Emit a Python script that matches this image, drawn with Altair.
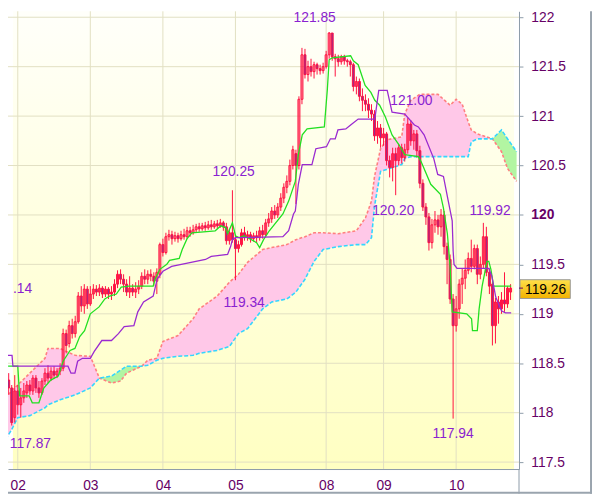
import altair as alt
import pandas as pd

# ---------------- candles (bar index, prices) ----------------
bar_index = list(range(-3, 164))
opens = [
    118.33, 118.25, 117.95, 118.22, 118.08, 118.15, 118.20, 118.28, 118.22, 118.35,
    118.25, 118.20, 118.32, 118.40, 118.35, 118.42, 118.38, 118.42, 118.45, 118.80,
    118.70, 118.88, 118.80, 118.92, 119.18, 119.08, 119.25, 119.10, 119.20, 119.25,
    119.22, 119.26, 119.20, 119.25, 119.20, 119.22, 119.30, 119.40, 119.35, 119.30,
    119.22, 119.26, 119.22, 119.25, 119.28, 119.38, 119.35, 119.40, 119.38, 119.33,
    119.40, 119.70, 119.62, 119.78, 119.80, 119.76, 119.79, 119.76, 119.80, 119.78,
    119.84, 119.82, 119.85, 119.88, 119.86, 119.89, 119.87, 119.90, 119.88, 119.91,
    119.89, 119.92, 119.88, 119.74, 119.82, 119.75, 119.66, 119.70, 119.82, 119.78,
    119.80, 119.76, 119.79, 119.77, 119.84, 119.80, 119.92, 119.96, 120.04, 120.00,
    120.08, 120.17, 120.28, 120.34, 120.50, 120.62, 120.50, 121.17, 121.62, 121.42,
    121.50, 121.45, 121.52, 121.48, 121.46, 121.50, 121.62, 121.84, 121.60, 121.58,
    121.55, 121.60, 121.56, 121.55, 121.52, 121.30, 121.35, 121.20, 121.16, 121.12,
    121.06, 121.02, 120.80, 120.88, 120.78, 120.82, 120.55, 120.48, 120.62, 120.55,
    120.68, 120.58, 120.66, 120.92, 120.75, 120.82, 120.65, 120.32, 120.08, 119.98,
    119.72, 119.90, 119.95, 119.88, 120.00, 119.68, 119.55, 119.15, 118.88, 119.05,
    119.30, 119.36, 119.44, 119.56, 119.48, 119.66, 119.40, 119.50, 119.78, 119.42,
    119.30, 118.88, 119.12, 119.05, 119.14, 119.10, 119.22]
highs = [
    118.40, 118.28, 118.38, 118.28, 118.25, 118.30, 118.32, 118.33, 118.38, 118.38,
    118.32, 118.35, 118.45, 118.48, 118.46, 118.47, 118.45, 118.50, 118.85, 118.84,
    118.93, 118.95, 118.98, 119.22, 119.28, 119.30, 119.28, 119.28, 119.30, 119.29,
    119.30, 119.28, 119.28, 119.27, 119.28, 119.35, 119.44, 119.45, 119.40, 119.35,
    119.38, 119.30, 119.32, 119.34, 119.42, 119.45, 119.44, 119.45, 119.42, 119.46,
    119.72, 119.76, 119.82, 119.85, 119.84, 119.83, 119.82, 119.84, 119.86, 119.88,
    119.88, 119.90, 119.91, 119.92, 119.92, 119.93, 119.94, 119.95, 119.94, 119.95,
    119.96, 119.94, 119.92, 119.86, 120.25, 119.80, 119.74, 119.86, 119.88, 119.84,
    119.83, 119.82, 119.84, 119.88, 119.90, 119.96, 120.02, 120.08, 120.10, 120.12,
    120.22, 120.32, 120.40, 120.56, 120.70, 120.66, 121.20, 121.69, 121.68, 121.56,
    121.58, 121.55, 121.54, 121.52, 121.54, 121.66, 121.85, 121.84, 121.63, 121.62,
    121.62, 121.62, 121.58, 121.57, 121.54, 121.40, 121.38, 121.28, 121.22, 121.18,
    121.12, 121.06, 120.95, 120.92, 120.88, 120.84, 120.60, 120.68, 120.68, 120.72,
    120.72, 120.72, 120.98, 120.96, 120.86, 120.86, 120.70, 120.36, 120.12, 120.02,
    119.96, 120.04, 120.00, 120.06, 120.04, 119.72, 119.60, 119.20, 119.18, 119.35,
    119.46, 119.55, 119.62, 119.75, 119.70, 119.70, 119.58, 119.92, 119.88, 119.46,
    119.32, 119.16, 119.18, 119.22, 119.42, 119.28, 119.30]
lows = [
    118.18, 117.87, 117.90, 117.98, 117.95, 118.10, 118.15, 118.18, 118.18, 118.20,
    118.15, 118.18, 118.28, 118.30, 118.32, 118.34, 118.35, 118.38, 118.42, 118.60,
    118.66, 118.75, 118.76, 118.90, 119.02, 119.00, 119.05, 119.08, 119.15, 119.18,
    119.18, 119.16, 119.17, 119.15, 119.14, 119.18, 119.26, 119.30, 119.22, 119.18,
    119.16, 119.18, 119.16, 119.20, 119.25, 119.30, 119.30, 119.33, 119.28, 119.20,
    119.36, 119.58, 119.60, 119.74, 119.70, 119.73, 119.72, 119.74, 119.75, 119.76,
    119.78, 119.80, 119.82, 119.83, 119.84, 119.84, 119.85, 119.85, 119.86, 119.86,
    119.87, 119.84, 119.70, 119.70, 119.72, 119.34, 119.62, 119.68, 119.74, 119.74,
    119.72, 119.73, 119.72, 119.74, 119.76, 119.78, 119.88, 119.92, 119.96, 119.97,
    120.04, 120.12, 120.22, 120.30, 120.46, 120.11, 120.46, 121.12, 121.38, 121.35,
    121.40, 121.38, 121.42, 121.42, 121.43, 121.48, 121.58, 121.56, 121.40, 121.50,
    121.52, 121.52, 121.50, 121.40, 121.25, 121.22, 121.15, 121.05, 121.05, 120.98,
    120.95, 120.75, 120.72, 120.68, 120.70, 120.50, 120.38, 120.34, 120.20, 120.50,
    120.52, 120.54, 120.62, 120.70, 120.66, 120.58, 120.27, 120.04, 119.90, 119.64,
    119.66, 119.82, 119.80, 119.78, 119.60, 119.30, 119.10, 117.94, 118.82, 118.95,
    119.10, 119.25, 119.40, 119.42, 119.45, 119.30, 119.35, 119.46, 119.38, 119.20,
    118.68, 118.70, 118.90, 119.00, 119.02, 119.06, 119.14]
closes = [
    118.25, 117.90, 118.22, 118.08, 118.15, 118.22, 118.28, 118.22, 118.35, 118.25,
    118.20, 118.32, 118.40, 118.35, 118.42, 118.38, 118.42, 118.45, 118.80, 118.68,
    118.88, 118.80, 118.92, 119.18, 119.08, 119.25, 119.10, 119.20, 119.25, 119.22,
    119.26, 119.20, 119.25, 119.20, 119.22, 119.30, 119.40, 119.35, 119.30, 119.22,
    119.26, 119.22, 119.25, 119.28, 119.38, 119.35, 119.40, 119.38, 119.33, 119.42,
    119.70, 119.62, 119.78, 119.80, 119.76, 119.79, 119.76, 119.80, 119.78, 119.84,
    119.82, 119.85, 119.88, 119.86, 119.89, 119.87, 119.90, 119.88, 119.91, 119.89,
    119.92, 119.88, 119.74, 119.82, 119.75, 119.66, 119.70, 119.82, 119.78, 119.80,
    119.76, 119.79, 119.77, 119.84, 119.80, 119.92, 119.96, 120.04, 120.00, 120.08,
    120.17, 120.28, 120.34, 120.50, 120.66, 120.50, 121.17, 121.62, 121.42, 121.50,
    121.45, 121.52, 121.48, 121.46, 121.50, 121.62, 121.84, 121.60, 121.58, 121.55,
    121.60, 121.56, 121.55, 121.52, 121.30, 121.35, 121.20, 121.16, 121.12, 121.06,
    121.02, 120.80, 120.88, 120.78, 120.82, 120.55, 120.48, 120.62, 120.55, 120.68,
    120.58, 120.66, 120.92, 120.75, 120.82, 120.65, 120.32, 120.08, 119.98, 119.72,
    119.90, 119.95, 119.88, 120.00, 119.68, 119.55, 119.15, 118.88, 119.05, 119.30,
    119.36, 119.44, 119.56, 119.48, 119.66, 119.40, 119.50, 119.78, 119.42, 119.28,
    118.88, 119.12, 119.05, 119.14, 119.10, 119.26, 119.26]

# ---------------- Ichimoku cloud (senkou span A / B) ----------------
cloud_idx = [-4, -2, 0, 4, 9, 10, 14, 16, 19, 24,
             27, 31, 34, 36, 41, 43, 46, 48, 53, 58,
             60, 66, 70, 73, 76, 81, 84, 89, 92, 95,
             98, 101, 106, 112, 115, 117, 118, 120, 122, 127,
             128, 130, 133, 139, 143, 145, 147, 149, 150, 152,
             157, 160, 162, 165]
span_a = [118.15, 118.22, 118.28, 118.40, 118.55, 118.65, 118.65, 118.62, 118.58, 118.57,
          118.35, 118.30, 118.32, 118.40, 118.47, 118.53, 118.55, 118.72, 118.78, 118.95,
          119.05, 119.18, 119.32, 119.40, 119.52, 119.65, 119.67, 119.70, 119.75, 119.78,
          119.82, 119.82, 119.81, 119.84, 119.97, 120.14, 120.39, 120.67, 120.76, 120.79,
          121.02, 121.16, 121.22, 121.22, 121.11, 121.17, 121.12, 120.94, 120.86, 120.82,
          120.77, 120.64, 120.47, 120.34]
span_b = [117.73, 117.83, 117.95, 117.97, 118.05, 118.08, 118.13, 118.15, 118.18, 118.25,
          118.35, 118.37, 118.43, 118.47, 118.47, 118.48, 118.53, 118.55, 118.57, 118.58,
          118.60, 118.63, 118.67, 118.80, 118.85, 119.05, 119.12, 119.15, 119.22, 119.35,
          119.53, 119.65, 119.68, 119.70, 119.70, 119.77, 120.09, 120.44, 120.46, 120.51,
          120.57, 120.59, 120.59, 120.59, 120.59, 120.59, 120.59, 120.59, 120.74, 120.77,
          120.77, 120.86, 120.77, 120.64]

# ---------------- tenkan (conversion) line ----------------
tenkan_idx = [-3.2, 0, 0.6, 3.8, 4.8, 7.0, 8.6, 10.9, 13.4, 15,
              17.3, 18.9, 20.5, 22.1, 24, 26.9, 28.8, 30.4, 32.6, 34.2,
              36.8, 44.8, 45.4, 47, 49.3, 50.2, 53.4, 54.4, 56, 57.6,
              65.3, 67.2, 68.8, 69.4, 71, 72, 73.3, 74.9, 79, 80,
              81.3, 83.2, 87.7, 89.6, 91.8, 92.8, 94.1, 95.7, 101.4, 102.4,
              103, 104, 110.1, 111, 112.6, 114.9, 116.8, 118.1, 119.7, 121.6,
              123.8, 126.1, 128, 132.5, 133.4, 136.6, 139.8, 140.8, 142.1, 143,
              143.7, 148.5, 150.1, 150.4, 152, 152.6, 153.6, 155.2, 155.8, 156.5,
              157.4, 163.2]
tenkan = [118.47, 118.47, 118.17, 118.17, 118.10, 118.10, 118.25, 118.33, 118.37, 118.52,
          118.63, 118.65, 118.77, 118.83, 119.00, 119.07, 119.15, 119.18, 119.20, 119.27,
          119.28, 119.28, 119.35, 119.45, 119.50, 119.54, 119.56, 119.65, 119.76, 119.82,
          119.84, 119.89, 119.87, 119.81, 119.92, 119.79, 119.77, 119.79, 119.72, 119.67,
          119.75, 119.84, 120.01, 120.14, 120.34, 120.61, 120.81, 120.87, 120.89, 121.27,
          121.57, 121.59, 121.61, 121.56, 121.52, 121.31, 121.24, 121.16, 121.11, 120.99,
          120.81, 120.71, 120.61, 120.59, 120.54, 120.31, 120.21, 120.07, 119.81, 119.48,
          119.02, 119.00, 118.95, 118.83, 118.83, 119.05, 119.28, 119.53, 119.53, 119.45,
          119.28, 119.28]

# ---------------- kijun (base) line ----------------
kijun_idx = [-3.5, -1.9, -1.6, 16.6, 17.6, 18.9, 19.8, 21.4, 24, 25.3,
             27.8, 31, 33.3, 35.2, 38.4, 39.7, 41.6, 44.8, 46.1, 48,
             50.9, 55.7, 62.1, 64, 69.4, 70.4, 71, 72, 87.7, 89.6,
             91.2, 91.8, 92.8, 94.1, 97.3, 98.6, 102.1, 103.4, 105, 105.9,
             108.5, 110.1, 112.6, 118.1, 119.4, 122.2, 123.8, 128, 131.2, 132.5,
             134.4, 137.6, 138.9, 140.8, 142.4, 143.7, 144, 144.3, 145.3, 155.8,
             156.8, 158.1, 160, 161.3, 163.2]
kijun = [118.58, 118.58, 118.47, 118.47, 118.40, 118.40, 118.52, 118.55, 118.55, 118.62,
         118.73, 118.73, 118.80, 118.87, 118.88, 119.02, 119.12, 119.18, 119.35, 119.43,
         119.48, 119.51, 119.55, 119.58, 119.60, 119.68, 119.75, 119.77, 119.78, 119.84,
         120.01, 120.04, 120.31, 120.51, 120.51, 120.67, 120.69, 120.77, 120.77, 120.86,
         120.87, 120.91, 120.97, 120.97, 121.26, 121.26, 121.04, 121.02, 120.91, 120.89,
         120.81, 120.57, 120.41, 120.39, 120.14, 119.94, 119.64, 119.50, 119.46, 119.46,
         119.38, 119.17, 119.03, 119.01, 119.01]

# ---------------- axis ticks / labels ----------------
day_index = [0, 24, 48, 72, 102, 121, 145]
day_labels = ["02", "03", "04", "05", "08", "09", "10"]
price_ticks = [117.5, 118.0, 118.5, 119.0, 119.5, 120.0, 120.5, 121.0, 121.5, 122.0]

# ---------------- annotations ----------------
ann_text = ["121.85", "121.00", "120.25", "120.20", "119.92", "119.34", "117.87", "117.94", ".14"]
ann_idx = [98.2, 130.2, 71.4, 124.2, 156.2, 74.9, 4.2, 144.0, -1.6]
ann_price = [121.99, 121.15, 120.43, 120.04, 120.04, 119.11, 117.68, 117.78, 119.25]
ann_align = ["center"] * 8 + ["left"]
last_price = 119.26

# ---------------- styling ----------------
FONT = "Liberation Sans"
RED = "#ff1040"
BEAR = "#9c2a8c"
GRID = "#e2dfc2"
AXIS_GRAY = "#8c9aa8"
LABEL = "#660066"
ANN = "#8a22d0"

xs = alt.Scale(domain=[-1.6, 164.16], nice=False, zero=False)
ys = alt.Scale(domain=[117.43, 122.06], nice=False, zero=False)

label_expr = " : ".join(f"datum.value == {i} ? '{l}'" for i, l in zip(day_index, day_labels)) + " : ''"
xaxis = alt.Axis(values=day_index, labelExpr=label_expr, title=None, grid=False, ticks=False,
                 labelPadding=10, labelColor=LABEL, labelFont=FONT, labelFontSize=14,
                 domainColor=AXIS_GRAY, labelOverlap=False, labelFlush=False)
yaxis = alt.Axis(orient="right", values=price_ticks, format="~f", title=None, grid=False,
                 tickSize=4, tickColor=AXIS_GRAY, labelPadding=8, labelColor=LABEL,
                 labelFont=FONT, labelFontSize=14, domainColor=AXIS_GRAY, labelOverlap=False,
                 labelFontWeight={"condition": {"test": "datum.value == 120", "value": "bold"},
                                  "value": "normal"})


def X(f):
    return alt.X(f, type="quantitative", scale=xs, axis=xaxis, title=None)


def Y(f):
    return alt.Y(f, type="quantitative", scale=ys, axis=yaxis, title=None)


# data frames
candles = pd.DataFrame({"idx": bar_index, "open": opens, "high": highs, "low": lows, "close": closes})
candles["fill"] = [BEAR if c < o else "rgba(0,0,0,0)" for o, c in zip(opens, closes)]

cloud = pd.DataFrame({"idx": cloud_idx, "a": span_a, "b": span_b})
segs, cur = [], []
for ix, a, b in zip(cloud_idx, span_a, span_b):
    cur.append((ix, a, b))
    if a == b and len(cur) > 1:
        segs.append(cur)
        cur = [(ix, a, b)]
segs.append(cur)
rows = []
for sid, s in enumerate(segs):
    col = "#ffc8e8" if any(a > b for _, a, b in s) else "#b2f5a2"
    for ix, a, b in s:
        rows.append({"idx": ix, "a": a, "b": b, "seg": sid, "fill": col})
cloud_fill = pd.DataFrame(rows)

tk = pd.DataFrame({"idx": tenkan_idx, "v": tenkan})
kj = pd.DataFrame({"idx": kijun_idx, "v": kijun})
ann = pd.DataFrame({"idx": ann_idx, "p": ann_price, "t": ann_text, "al": ann_align})
bg = pd.DataFrame({"x0": [xs.domain[0]], "x1": [xs.domain[1]], "y0": [ys.domain[0]], "y1": [ys.domain[1]]})
hgrid = pd.DataFrame({"p": price_ticks})
vgrid = pd.DataFrame({"idx": day_index})
tag = pd.DataFrame({"p": [last_price], "top": [last_price + 0.105], "bot": [last_price - 0.105],
                    "t": [f"{last_price:.2f}"]})

bg_grad = alt.LinearGradient(gradient="linear", x1=0, x2=0, y1=0, y2=1,
                             stops=[alt.GradientStop(color="#fffffa", offset=0),
                                    alt.GradientStop(color="#ffffc2", offset=1)])
tag_grad = alt.LinearGradient(gradient="linear", x1=0, x2=0, y1=0, y2=1,
                              stops=[alt.GradientStop(color="#ffe04a", offset=0),
                                     alt.GradientStop(color="#f2b200", offset=1)])

background = alt.Chart(bg).mark_rect(fill=bg_grad).encode(x=X("x0"), x2="x1", y=Y("y0"), y2="y1")
hg = alt.Chart(hgrid).mark_rule(color=GRID, strokeWidth=1).encode(y=Y("p"))
vg = alt.Chart(vgrid).mark_rule(color=GRID, strokeWidth=1).encode(x=X("idx"))

cloud_area = alt.Chart(cloud_fill).mark_area(clip=True, opacity=1).encode(
    x=X("idx"), y=Y("a"), y2="b", fill=alt.Fill("fill:N", scale=None), detail="seg:N")
line_a = alt.Chart(cloud).mark_line(clip=True, color="#ff7f7f", strokeWidth=1.6, strokeDash=[3, 2]).encode(
    x=X("idx"), y=Y("a"))
line_b = alt.Chart(cloud).mark_line(clip=True, color="#33d6ff", strokeWidth=1.6, strokeDash=[4, 2]).encode(
    x=X("idx"), y=Y("b"))

wicks = alt.Chart(candles).mark_rule(clip=True, color=RED, strokeWidth=1).encode(
    x=X("idx"), y=Y("low"), y2="high")
bodies = alt.Chart(candles).mark_bar(clip=True, size=2, stroke=RED, strokeWidth=1).encode(
    x=X("idx"), y=Y("open"), y2="close", fill=alt.Fill("fill:N", scale=None))

tenkan_line = alt.Chart(tk).mark_line(clip=True, color="#22e022", strokeWidth=1.3).encode(x=X("idx"), y=Y("v"))
kijun_line = alt.Chart(kj).mark_line(clip=True, color="#9a2ad0", strokeWidth=1.3).encode(x=X("idx"), y=Y("v"))

ann_layers = []
for al in ["center", "left"]:
    ann_layers.append(
        alt.Chart(ann[ann["al"] == al]).mark_text(clip=True, font=FONT, fontSize=14, color=ANN,
                                                  align=al, baseline="middle").encode(
            x=X("idx"), y=Y("p"), text="t:N"))

tag_box = alt.Chart(tag).mark_rect(fill=tag_grad, stroke="#9a9a9a", strokeWidth=1, yOffset=2).encode(
    x=alt.value(519), x2=alt.value(570), y=Y("top"), y2="bot")
tag_text = alt.Chart(tag).mark_text(font=FONT, fontSize=14, color="#000000", align="center",
                                    baseline="middle", dy=2).encode(
    x=alt.value(545), y=Y("p"), text="t:N")
tag_tick = alt.Chart(tag).mark_rule(color=LABEL, strokeWidth=1).encode(
    x=alt.value(518), x2=alt.value(522), y=Y("p"))

right_ext = alt.Chart(tag).mark_rule(color=AXIS_GRAY, strokeWidth=1).encode(
    x=alt.value(518), y=alt.value(464), y2=alt.value(489))
outer_r = alt.Chart(tag).mark_rule(color="#9aa4ae", strokeWidth=2).encode(
    x=alt.value(591), y=alt.value(0), y2=alt.value(489))
outer_b = alt.Chart(tag).mark_rule(color="#9aa4ae", strokeWidth=2).encode(
    y=alt.value(488), x=alt.value(0), x2=alt.value(592))

chart = alt.layer(
    background, hg, vg, cloud_area, line_a, line_b, wicks, bodies, tenkan_line, kijun_line,
    *ann_layers, tag_box, tag_text, tag_tick, right_ext, outer_r, outer_b
).properties(
    width=518, height=464,
    autosize=alt.AutoSizeParams(type="none"),
    padding={"left": 0, "top": 0, "right": 74, "bottom": 25},
    background="white",
).configure_view(stroke=None)

chart.save("out.html", embed_options={"renderer": "svg", "actions": False})
